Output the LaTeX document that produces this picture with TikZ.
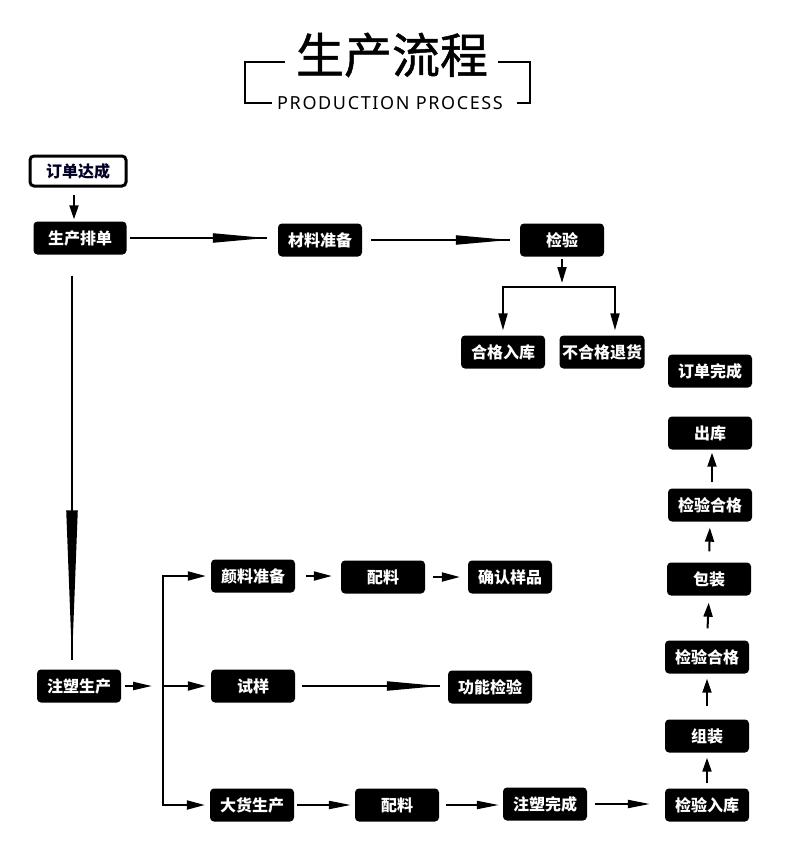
\documentclass[tikz,border=0pt]{standalone}
\usepackage{fontspec}
\setmainfont{Noto Sans}
\newfontfamily\cjk{Noto Sans CJK SC}
\usetikzlibrary{arrows.meta}

\begin{document}
\begin{tikzpicture}[x=1pt,y=-1pt]
\tikzstyle{every node}+=[inner sep=0pt]
\tikzstyle{box}=[fill=black,rounded corners=4pt,minimum width=84pt,minimum height=33pt,text=white,font=\cjk\bfseries\fontsize{16}{16}\selectfont]
\tikzstyle{arr}=[line width=2pt,-{Triangle[length=17pt,width=9pt]}]
\tikzstyle{longarr}=[line width=2pt,-{Triangle[length=54pt,width=9pt]}]
\tikzstyle{shaft}=[line width=2pt]
\useasboundingbox (0,0) rectangle (790,854);
% title
\node (title) at (392,55) {\cjk\fontsize{48}{48}\selectfont\addfontfeatures{FakeBold=1}生产流程};
\node (subtitle) at (390,103) {\fontsize{18}{18}\selectfont\addfontfeatures{LetterSpace=9}PRODUCTION PROCESS};
\draw [line width=2pt] (285,62) -- (245,62) -- (245,103) -- (272,103);
\draw [line width=2pt] (498,62) -- (530,62) -- (530,103) -- (517,103);
% boxes
\node [box,fill=white,draw=black,line width=3pt,text=black!85!blue,minimum width=96pt,minimum height=30pt] (ddzc) at (78,171) {订单达成};
\node [box,minimum width=93pt] (scpd) at (80,238) {生产排单};
\node [box] (clzb) at (320,240) {材料准备};
\node [box] (jy) at (562,240) {检验};
\node [box] (hgrk) at (503,352) {合格入库};
\node [box,minimum width=85pt] (bhgth) at (602,352) {不合格退货};
\node [box] (ddwc) at (710,371) {订单完成};
\node [box] (ck) at (710,433) {出库};
\node [box] (jyhga) at (710,505) {检验合格};
\node [box] (bz) at (709,579) {包装};
\node [box] (jyhgb) at (707,657) {检验合格};
\node [box] (zz) at (707,736) {组装};
\node [box] (jyrk) at (707,805) {检验入库};
\node [box] (zssc) at (79,686) {注塑生产};
\node [box] (ylzb) at (253,576) {颜料准备};
\node [box] (pla) at (383,577) {配料};
\node [box] (qryp) at (510,577) {确认样品};
\node [box] (sy) at (253,686) {试样};
\node [box] (gnjy) at (490,687) {功能检验};
\node [box] (dhsc) at (252,805) {大货生产};
\node [box] (plb) at (397,805) {配料};
\node [box] (zswc) at (545,804) {注塑完成};
\coordinate (fork) at (562,287);
\coordinate (forkl) at (503,287);
\coordinate (forkr) at (615,287);
\coordinate (split) at (152,686);
\coordinate (bus) at (163,686);
% top part
\draw [arr,-{Triangle[length=14pt,width=9pt]}] ([shift={(-4,7)}]ddzc.south) -- ([shift={(-6,-2)}]scpd.north);
\draw [shaft,shorten <=3pt,shorten >=11pt] (scpd.east) -- (scpd.east -| clzb.west);
\draw [longarr,shorten <=3pt,shorten >=11pt] (scpd.east) -- (scpd.east -| clzb.west);
\draw [shaft,shorten <=9pt,shorten >=10pt] (clzb.east) -- (jy.west);
\draw [longarr,shorten <=9pt,shorten >=10pt] (clzb.east) -- (jy.west);
\draw [arr,-{Triangle[length=16pt,width=9pt]},shorten <=2pt,shorten >=4pt] (jy.south) -- (fork);
\draw [line width=2pt,line cap=rect] (forkl) -- (forkr);
\draw [arr,shorten >=5pt] (forkl) -- (hgrk.north);
\draw [arr,shorten >=5pt] (forkr) -- (forkr |- bhgth.north);
\draw [shaft,shorten <=21pt,shorten >=9pt] ([xshift=-8pt]scpd.south) -- ([xshift=-7pt]zssc.north);
\draw [line width=2pt,-{Triangle[length=152pt,width=11pt]},shorten <=21pt,shorten >=7pt] ([xshift=-8pt]scpd.south) -- ([xshift=-7pt]zssc.north);
% middle part
\draw [arr,-{Triangle[length=19pt,width=8pt]},shorten <=4pt] (zssc.east) -- (split);
\draw [arr,-{Triangle[length=18pt,width=9pt]},shorten >=5pt] (bus) |- (ylzb.west);
\draw [arr,-{Triangle[length=18pt,width=9pt]},shorten >=5pt] (bus) -- (sy.west);
\draw [arr,-{Triangle[length=18pt,width=9pt]},shorten >=5pt] (bus) |- (dhsc.west);
\draw [arr,-{Triangle[length=18pt,width=9pt]},shorten <=11pt,shorten >=9pt] (ylzb.east) -- (ylzb.east -| pla.west);
\draw [arr,-{Triangle[length=18pt,width=9pt]},shorten <=8pt,shorten >=8pt] (pla.east) -- (qryp.west);
\draw [shaft,shorten <=7pt,shorten >=8pt] (sy.east) -- (sy.east -| gnjy.west);
\draw [longarr,-{Triangle[length=53pt,width=9pt]},shorten <=7pt,shorten >=8pt] (sy.east) -- (sy.east -| gnjy.west);
% bottom row
\draw [arr,-{Triangle[length=22pt,width=8pt]},shorten <=3pt,shorten >=4pt] (dhsc.east) -- (plb.west);
\draw [arr,-{Triangle[length=22pt,width=8pt]},shorten <=7pt,shorten >=4pt] (plb.east) -- (plb.east -| zswc.west);
\draw [arr,-{Triangle[length=22pt,width=8pt]},shorten <=8pt,shorten >=15pt] (zswc.east) -- (zswc.east -| jyrk.west);
% right column
\draw [arr,-{Triangle[length=14pt,width=9pt]},shorten <=5pt,shorten >=5pt] (jyrk.north) -- (zz.south);
\draw [arr,-{Triangle[length=14pt,width=9pt]},shorten <=13pt,shorten >=5pt] (zz.north) -- (jyhgb.south);
\draw [arr,-{Triangle[length=14pt,width=9pt]},shorten <=12pt,shorten >=7pt] (jyhgb.north) -- (bz.south);
\draw [arr,-{Triangle[length=14pt,width=9pt]},shorten <=11pt,shorten >=6pt] (bz.north) -- (jyhga.south);
\draw [arr,-{Triangle[length=14pt,width=9pt]},shorten <=6pt,shorten >=3pt] ([xshift=2pt]jyhga.north) -- ([xshift=2pt]ck.south);
\end{tikzpicture}
\end{document}
